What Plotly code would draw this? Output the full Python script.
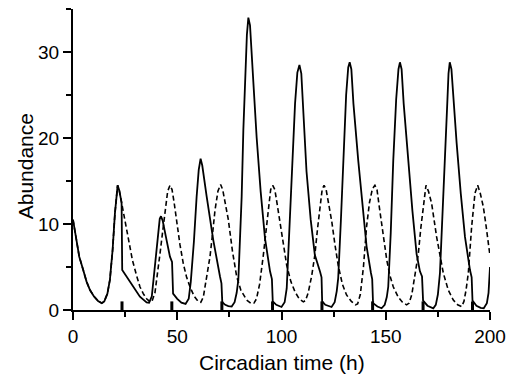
import plotly.graph_objects as go

# ---- data ----
solid_t = [0, 1, 2, 3, 4.9, 6.5, 8.2, 10, 12, 13.8, 15, 16.5, 17.7, 19, 20.1, 20.8, 21.4, 22.2, 23.3, 23.6,
           25.7, 28.9, 32.1, 35.3, 36.5, 37.8, 39.3, 40.9, 41.6, 42.2, 43.0, 44.9, 46.5, 47.5, 48.0,
           50, 52, 54, 55.5, 56.5, 58, 59.3, 60.3, 61.2, 62.0, 64.1, 67.3, 70.5, 71.2, 71.6,
           73, 74.5, 76.1, 77.5, 78.5, 79.3, 80.1, 80.9, 81.7, 82.6, 83.4, 84.1, 84.9, 86.5, 88.1, 90, 92.1, 94.5, 95.4, 95.8,
           97.5, 100, 101.5, 102.5, 103.5, 104.9, 106.5, 107.6, 108.6, 109.5, 110.5, 112, 114, 116, 118.5, 119.2, 119.5,
           121, 124, 125.5, 126.5, 127.2, 128.5, 129.7, 131, 132.0, 132.7, 133.5, 134.5, 136.8, 138.8, 140.8, 142.9, 143.5, 143.9,
           146, 148, 149.5, 150.5, 151.2, 152.4, 153.6, 155, 156.1, 156.8, 157.6, 158.6, 160.8, 162.8, 164.8, 166.4, 167.4, 167.9,
           170, 172.8, 174, 175, 176, 177.2, 178.4, 179.5, 180.1, 180.7, 181.5, 182.5, 184, 186, 188, 190.4, 191.2, 191.6,
           193.5, 195.5, 197, 198.5, 199.3, 200]
solid_v = [10.5, 9.0, 7.6, 6.2, 4.65, 3.3, 2.3, 1.6, 1.05, 0.8, 1.0, 1.9, 3.5, 7.0, 11.2, 13.5, 14.5, 13.9, 12.5, 4.65,
           3.9, 2.7, 1.55, 0.89, 0.85, 1.6, 5.4, 9.7, 10.6, 10.9, 10.4, 8.1, 6.2, 5.6, 1.9,
           1.3, 0.85, 0.7, 1.3, 3.3, 8.0, 13.2, 16.3, 17.6, 16.8, 13.2, 8.1, 3.9, 3.1, 0.9,
           0.6, 0.45, 0.4, 0.9, 2.0, 3.5, 8.0, 13.2, 20.9, 27.5, 32.0, 34.0, 33.1, 26.5, 20.0, 13.8, 8.3, 4.5, 3.6, 1.0,
           0.6, 0.35, 0.9, 2.5, 7.5, 16.1, 24.0, 27.6, 28.5, 27.5, 23.5, 16.1, 10.5, 6.4, 4.45, 3.8, 1.0,
           0.6, 0.35, 0.9, 2.2, 3.7, 10.5, 18.0, 25.0, 28.2, 28.8, 28.0, 24.0, 17.4, 12.0, 7.4, 4.3, 3.6, 0.8,
           0.4, 0.2, 0.6, 1.5, 2.7, 9.0, 17.4, 24.5, 28.0, 28.8, 28.0, 24.0, 17.4, 11.5, 6.5, 4.5, 3.9, 1.1,
           0.5, 0.2, 0.6, 1.8, 4.3, 10.5, 17.4, 24.0, 27.5, 28.8, 28.0, 24.5, 19.4, 13.5, 8.5, 4.65, 3.8, 1.1,
           0.5, 0.25, 0.2, 0.8, 2.0, 5.0]

dashed_t = [0, 1, 2, 3, 4.9, 6.5, 8.2, 10, 12, 13.8, 15, 16.5, 17.7, 19, 20.1, 20.8, 21.4, 22.2, 23.3,
            24.9, 26.5, 28.5, 30.5, 32.1, 33.7, 35.3, 36.9, 37.8, 39.3, 40.5, 41.7, 43.3, 44.1, 45.4, 46.5,
            47.5, 48.5, 49.7, 51.3, 52.9, 54.5, 56.1, 58.1, 60.1, 61.3, 62.5, 64, 65.7, 67, 68.1, 69.5, 70.8,
            71.8, 72.8, 74.5, 76.5, 78.5, 80.5, 83.3, 85.5, 86.8, 88, 89.5, 91.3, 92.5, 93.7, 94.8, 95.8,
            96.8, 97.8, 99.3, 101, 102.5, 104.5, 106.5, 108.5, 110.5, 111.5, 112.8, 114.5, 116, 117.3, 118.5, 119.5, 120.4,
            121.4, 122.5, 124.1, 125.7, 127.2, 129.2, 131.2, 133.5, 135.5, 136.5, 137.8, 139.3, 140.8, 142.2, 143.6, 144.8,
            145.8, 146.9, 148.8, 150.5, 152, 153.6, 156, 158, 160, 161.2, 162.5, 164, 165.6, 166.8, 168, 169.3,
            170.5, 172, 174.4, 176, 177.6, 180, 182.4, 184.5, 186.4, 187.5, 188.5, 189.6, 190.4, 191.2, 192.8, 194.1,
            195.3, 196.8, 198, 199.2, 200]
dashed_v = [10.5, 9.0, 7.6, 6.2, 4.65, 3.3, 2.3, 1.6, 1.05, 0.8, 1.0, 1.9, 3.5, 7.0, 11.2, 13.5, 14.5, 13.9, 12.5,
            10.5, 8.3, 5.8, 4.0, 2.7, 1.9, 1.3, 0.97, 0.95, 2.0, 4.0, 6.5, 9.7, 11.3, 13.8, 14.5,
            14.0, 12.5, 10.1, 7.6, 5.4, 3.8, 2.7, 1.6, 0.97, 0.9, 1.5, 3.5, 6.2, 9.0, 11.6, 13.8, 14.6,
            14.0, 12.5, 10.5, 6.8, 3.9, 2.3, 1.16, 0.75, 0.8, 1.3, 3.0, 6.4, 9.3, 12.2, 14.0, 14.5,
            14.0, 12.5, 10.3, 7.5, 5.2, 3.3, 2.1, 1.3, 0.95, 1.1, 2.0, 4.0, 6.4, 9.5, 12.2, 14.0, 14.5,
            14.0, 12.5, 10.3, 7.5, 5.2, 3.0, 1.75, 1.0, 0.6, 0.7, 1.8, 5.0, 9.7, 12.5, 14.1, 14.5,
            14.0, 12.0, 8.5, 5.8, 4.0, 2.7, 1.5, 0.9, 0.6, 0.8, 1.8, 4.0, 6.5, 9.5, 12.2, 14.5,
            13.8, 12.4, 8.5, 6.2, 4.3, 2.3, 1.16, 0.6, 0.4, 1.0, 2.3, 4.3, 7.0, 9.7, 13.6, 14.5,
            13.6, 12.0, 10.0, 8.1, 6.3]

pulse_times = [23.5, 47.4, 71.4, 95.7, 119.4, 143.7, 167.9, 191.6]

x_ticks = [0, 50, 100, 150, 200]
y_ticks = [0, 10, 20, 30]
x_title = "Circadian time (h)"
y_title = "Abundance"

# ---- figure ----
MARK_H = 1.0
px, py = [], []
for p in pulse_times:
    px += [p, p, None]
    py += [0, MARK_H, None]

fig = go.Figure()
fig.add_trace(go.Scatter(x=solid_t, y=solid_v, mode="lines",
                         line=dict(color="black", width=1.8), showlegend=False))
fig.add_trace(go.Scatter(x=dashed_t, y=dashed_v, mode="lines",
                         line=dict(color="black", width=1.6, dash="5px,3px"), showlegend=False))
fig.add_trace(go.Scatter(x=px, y=py, mode="lines",
                         line=dict(color="black", width=3), showlegend=False))

font_family = "Liberation Sans, Arial, sans-serif"
axis_common = dict(showline=True, linecolor="black", linewidth=2, ticks="outside",
                   ticklen=8, tickwidth=2, tickcolor="black", showgrid=False, zeroline=False,
                   automargin=False,
                   tickfont=dict(family=font_family, size=19, color="black"))

fig.update_layout(
    width=506, height=375,
    margin=dict(l=73, r=16, t=9, b=65, autoexpand=False),
    paper_bgcolor="white", plot_bgcolor="white",
    xaxis=dict(range=[0, 200], tickvals=x_ticks,
               minor=dict(dtick=25, tick0=0, ticklen=5, tickwidth=1.5, ticks="outside", tickcolor="black"),
               **axis_common),
    yaxis=dict(range=[0, 35], tickvals=y_ticks,
               minor=dict(dtick=5, tick0=0, ticklen=5, tickwidth=1.5, ticks="outside", tickcolor="black"),
               **axis_common),
    annotations=[
        dict(text=x_title, xref="paper", yref="paper", x=0.501, y=-0.175,
             xanchor="center", yanchor="middle", showarrow=False,
             font=dict(family=font_family, size=21, color="black")),
        dict(text=y_title, xref="paper", yref="paper", x=-0.113, y=0.477,
             xanchor="center", yanchor="middle", showarrow=False, textangle=-90,
             font=dict(family=font_family, size=21, color="black")),
    ],
)

fig.write_html("out.html")
